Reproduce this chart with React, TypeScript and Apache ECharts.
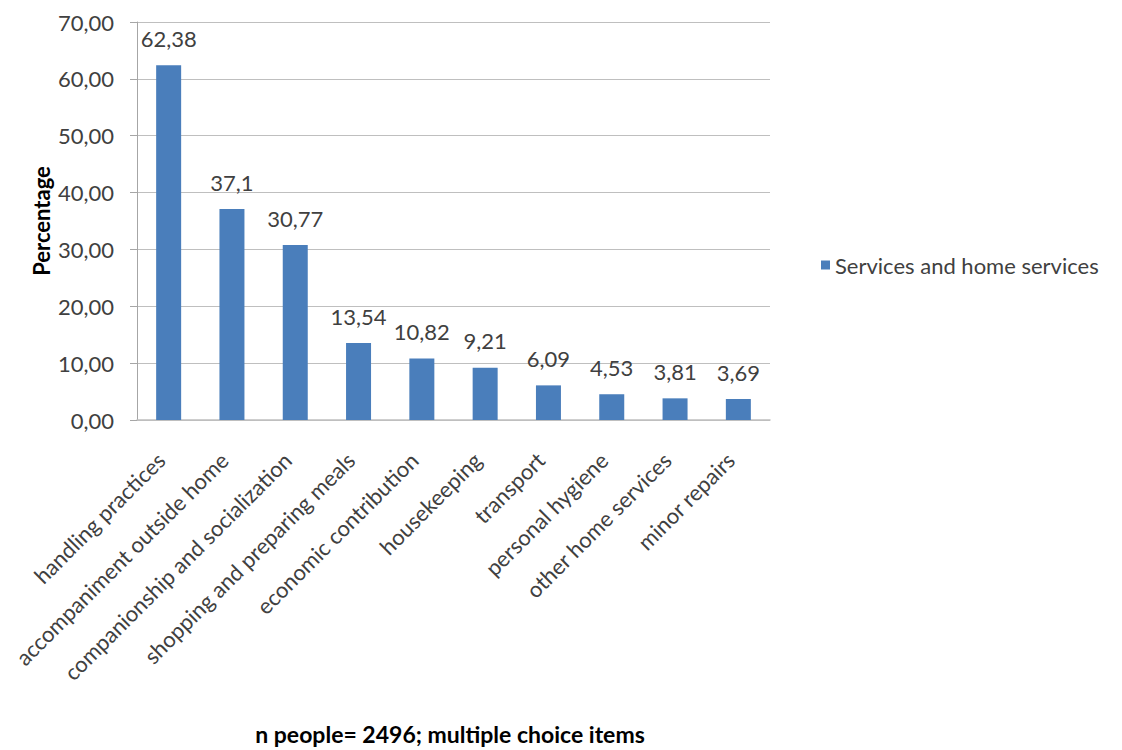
import React, { useEffect, useRef } from "react";
import * as echarts from "echarts";

const categories = [
  "handling practices",
  "accompaniment outside home",
  "companionship and socialization",
  "shopping and preparing meals",
  "economic contribution",
  "housekeeping",
  "transport",
  "personal hygiene",
  "other home services",
  "minor repairs",
];
const values = [62.38, 37.1, 30.77, 13.54, 10.82, 9.21, 6.09, 4.53, 3.81, 3.69];
const seriesName = "Services and home services";
const yTitle = "Percentage";
const footnote = "n people= 2496; multiple choice items";

const FONT = "Lato, 'Open Sans', sans-serif";

export default function App() {
  const ref = useRef<HTMLDivElement>(null);
  useEffect(() => {
    if (!ref.current) return;
    const chart = echarts.init(ref.current, null, { renderer: "svg" });
    chart.setOption({
      animation: false,
      backgroundColor: "#ffffff",
      textStyle: { fontFamily: FONT },
      legend: {
        data: [seriesName],
        left: 808,
        top: 241,
        icon: "rect",
        itemWidth: 9,
        itemHeight: 9,
        textStyle: { fontSize: 22, color: "#404040", fontFamily: FONT },
      },
      grid: { left: 129, top: 14, width: 633, height: 398, containLabel: false },
      xAxis: {
        type: "category",
        data: categories,
        axisLine: { lineStyle: { color: "#bfbfbf", width: 1.5 } },
        axisTick: { show: false },
        axisLabel: {
          rotate: 45,
          interval: 0,
          fontSize: 22,
          color: "#404040",
          margin: 44,
          verticalAlign: "bottom",
          fontFamily: FONT,
        },
      },
      yAxis: {
        type: "value",
        min: 0,
        max: 70,
        interval: 10,
        name: yTitle,
        nameLocation: "middle",
        nameGap: 85,
        nameMoveOverlap: false,
        nameRotate: 90,
        nameTextStyle: { fontSize: 22, fontWeight: "bold", color: "#000", fontFamily: FONT },
        axisLine: { show: true, lineStyle: { color: "#a6a6a6" } },
        axisTick: { show: true, length: 7, lineStyle: { color: "#a6a6a6" } },
        splitLine: { lineStyle: { color: "#bfbfbf", width: 1.2 } },
        axisLabel: {
          fontSize: 22,
          color: "#404040",
          margin: 23,
          fontFamily: FONT,
          formatter: (v: number) => v.toFixed(2).replace(".", ","),
        },
      },
      series: [
        {
          name: seriesName,
          type: "bar",
          data: values,
          barWidth: 25,
          itemStyle: { color: "#4a7ebb" },
          label: {
            show: true,
            position: "top",
            distance: 16,
            fontSize: 22,
            color: "#404040",
            fontFamily: FONT,
            formatter: (p: any) => String(p.value).replace(".", ","),
          },
        },
      ],
      graphic: [
        {
          type: "text",
          x: 442,
          y: 726,
          style: {
            text: footnote,
            fontSize: 23,
            fontWeight: "bold",
            fill: "#000",
            fontFamily: FONT,
            textAlign: "center",
            textVerticalAlign: "middle",
          },
        },
      ],
    });
    return () => chart.dispose();
  }, []);
  return <div ref={ref} style={{ width: 1106, height: 742 }} />;
}
